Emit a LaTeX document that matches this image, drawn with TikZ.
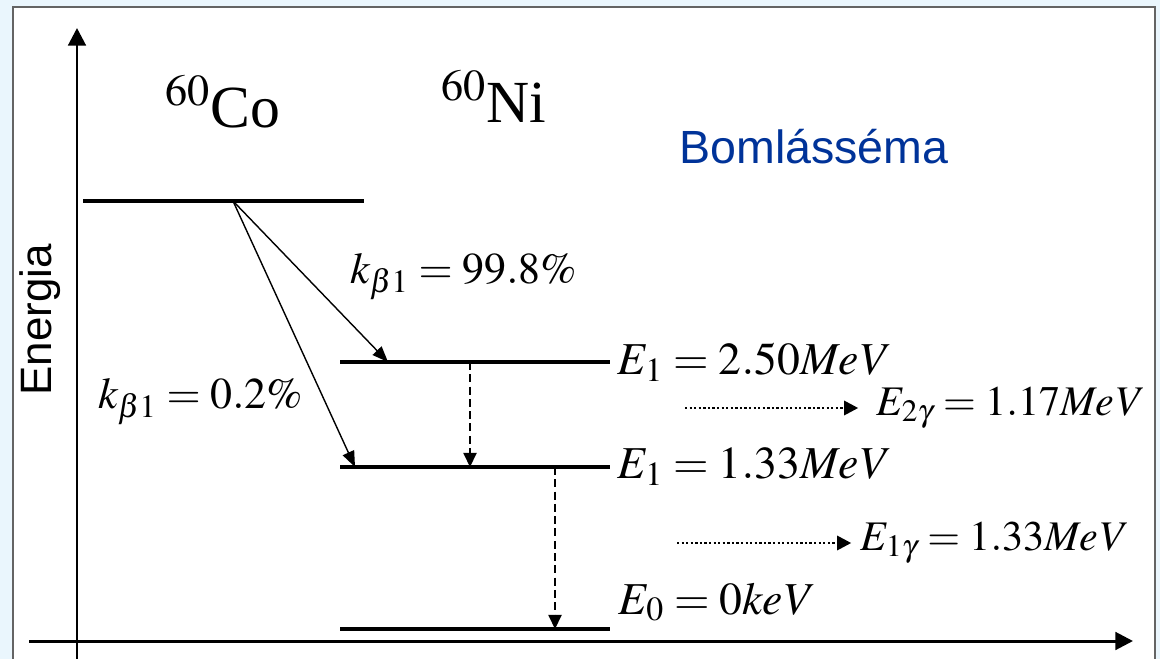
\documentclass[tikz,border=0pt]{standalone}
\usepackage{mathptmx}
\usepackage[no-math]{fontspec}
\setmainfont{Liberation Serif}
\setsansfont{Liberation Sans}
\usetikzlibrary{positioning,arrows.meta}
\definecolor{paleblue}{RGB}{234,246,253}
\definecolor{framegray}{RGB}{100,100,100}
\definecolor{titleblue}{RGB}{0,51,153}
\tikzset{level/.style={line width=1.9pt},
    axis/.style={line width=1.7pt,-{Triangle[length=10pt,width=10pt]}},
    decay/.style={line width=0.8pt,-{Triangle[length=9pt,width=7pt]}},
    gamma/.style={line width=0.8pt,dash pattern=on 4.5pt off 2.5pt,-{Triangle[length=8pt,width=7.5pt]}},
    emit/.style={line width=1.6pt,dash pattern=on 1.3pt off 1.3pt,-{Triangle[length=8pt,width=8pt,sep=1pt]}}
}
\tikzstyle{eq} = [font=\fontsize{26}{30}\selectfont, inner sep=0pt]
\tikzstyle{nuclide} = [font=\fontsize{34}{40}\selectfont, inner sep=0pt, anchor=base west]

\begin{document}
\begin{tikzpicture}[x=0.02cm, y=-0.02cm]
    \useasboundingbox (0,0) rectangle (1160,659);
    \fill [paleblue] (0,0) rectangle (1160,659);
    \filldraw [fill=white, draw=framegray, line width=1pt] (13,665) -- (13,7) -- (1155,7) -- (1155,665);

    \coordinate (ybot) at (77,659);
    \coordinate (ytop) at (77,28);
    \coordinate (xleft) at (29,641);
    \coordinate (xright) at (1133,641);

    \coordinate (col) at (83,201);
    \coordinate (cor) at (364,201);
    \coordinate (n2l) at (340,362);
    \coordinate (n2r) at (610,362);
    \coordinate (n1l) at (340,467);
    \coordinate (n1r) at (610,467);
    \coordinate (n0l) at (340,629);
    \coordinate (n0r) at (610,629);

    \coordinate (beta) at (233,201);
    \coordinate (b2) at (388,362);
    \coordinate (b1) at (355,467);
    \coordinate (g2top) at (470,362);
    \coordinate (g2bot) at (470,467);
    \coordinate (g1top) at (555,467);
    \coordinate (g1bot) at (555,629);
    \coordinate (e2s) at (685,408);
    \coordinate (e2e) at (860,408);
    \coordinate (e1s) at (677,543);
    \coordinate (e1e) at (853,543);

    \node [nuclide] (co) at (165,127) {$^{60}$Co};
    \node [nuclide] (ni) at (441,122) {$^{60}$Ni};
    \node [anchor=base west, inner sep=0pt, text=titleblue, font=\sffamily\fontsize{26.5}{30}\selectfont] (title) at (679,163) {Bomlásséma};
    \node [rotate=90, inner sep=0pt, font=\sffamily\fontsize{25}{30}\selectfont] (energy) at (40,320) {Energia};

    \node [eq, font=\fontsize{25}{30}\selectfont, anchor=base west] (k2) at (350,283) {$k_{\beta 1} = 99.8\%$};
    \node [eq, font=\fontsize{25}{30}\selectfont, anchor=base west] (k1) at (98,408) {$k_{\beta 1} = 0.2\%$};

    \node [eq, right=4pt of n2r] (lv2) {$E_{1} = 2.50\mathit{MeV}$};
    \node [eq, right=4pt of n1r] (lv1) {$E_{1} = 1.33\mathit{MeV}$};
    \node [eq, anchor=base west] (lv0) at (618,614) {$E_{0} = 0\mathit{keV}$};
    \node [eq, font=\fontsize{24}{28}\selectfont, right=9pt of e2e] (eg2) {$E_{2\gamma} = 1.17\mathit{MeV}$};
    \node [eq, font=\fontsize{24}{28}\selectfont, right=4pt of e1e] (eg1) {$E_{1\gamma} = 1.33\mathit{MeV}$};

    \draw [axis] (ybot) -- (ytop);
    \draw [axis] (xleft) -- (xright);

    \draw [level] (col) -- (cor);
    \draw [level] (n2l) -- (n2r);
    \draw [level] (n1l) -- (n1r);
    \draw [level] (n0l) -- (n0r);

    \draw [decay] (beta) -- (b2);
    \draw [decay] (beta) -- (b1);
    \draw [gamma] (g2top) -- (g2bot);
    \draw [gamma] (g1top) -- (g1bot);
    \draw [emit] (e2s) -- (e2e);
    \draw [emit] (e1s) -- (e1e);
\end{tikzpicture}
\end{document}
